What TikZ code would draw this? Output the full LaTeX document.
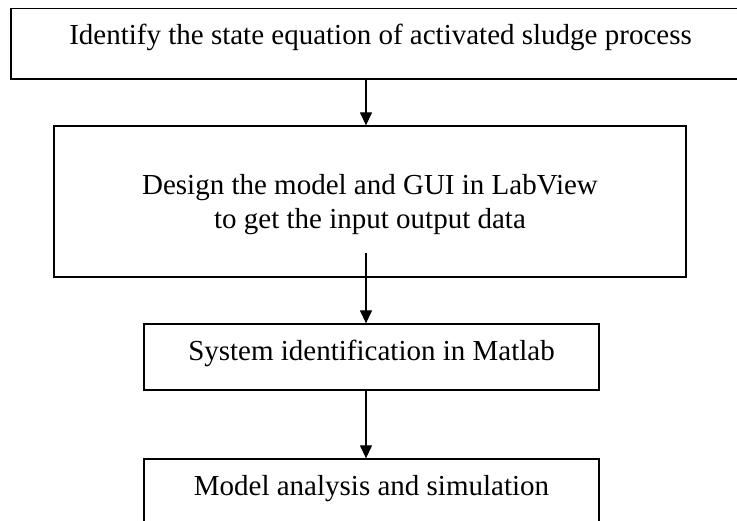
\documentclass[tikz,border=0pt]{standalone}
\usepackage{fontspec}
\setmainfont{Liberation Serif}
\usetikzlibrary{arrows.meta}
\begin{document}
\begin{tikzpicture}[x=1pt,y=1pt,
  box/.style={draw=black, line width=1.3pt, rectangle, inner sep=0pt},
  txt/.style={inner sep=0pt, anchor=base, font=\fontsize{29}{34}\selectfont},
  arr/.style={draw=black, line width=1.3pt, -{Triangle[length=13pt,width=12pt]}}]
\useasboundingbox (0,0) rectangle (737,-521);
\clip (0,0) rectangle (737,-521);
\node[box, minimum width=739pt, minimum height=70.5pt] (b1) at (380.5,-43.75) {};
\node[box, minimum width=632pt, minimum height=151pt] (b2) at (370,-201.5) {};
\node[box, minimum width=455pt, minimum height=66pt] (b3) at (371.5,-357) {};
\node[box, minimum width=455pt, minimum height=81pt] (b4) at (371.5,-499.5) {};
\node[txt] (t1) at (380.5,-45) {Identify the state equation of activated sludge process};
\node[txt] (t2a) at (370,-195) {Design the model and GUI in LabView};
\node[txt] (t2b) at (370,-229) {to get the input output data};
\node[txt] (t3) at (371.5,-361) {System identification in Matlab};
\node[txt] (t4) at (371.5,-495) {Model analysis and simulation};
\coordinate (ax) at (366,0);
\coordinate (a2) at (366,-253);
\draw[arr] (b1.south -| ax) -- (b2.north -| ax);
\draw[arr] (a2) -- (b3.north -| ax);
\draw[arr] (b3.south -| ax) -- (b4.north -| ax);
\end{tikzpicture}
\end{document}
